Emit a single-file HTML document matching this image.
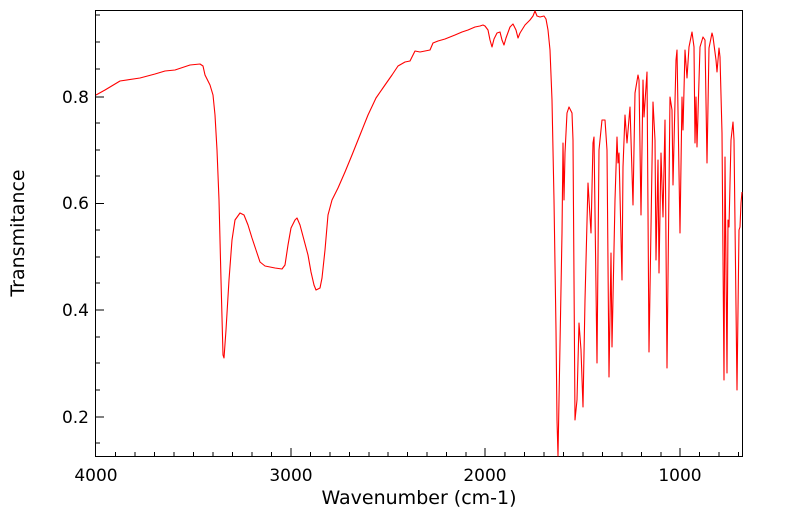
<!DOCTYPE html>
<html><head><meta charset="utf-8"><style>
html,body{margin:0;padding:0;background:#fff;}
svg{display:block;font-family:"DejaVu Sans","Liberation Sans",sans-serif;}
</style></head><body>
<svg width="799" height="516" viewBox="0 0 799 516" xmlns="http://www.w3.org/2000/svg">
<rect x="0" y="0" width="799" height="516" fill="#fff"/>
<g stroke="#000" stroke-width="1">
<rect x="95.5" y="10.5" width="647" height="446" fill="none"/>
<g>
<line x1="96" y1="97" x2="104" y2="97"/><line x1="96" y1="203.5" x2="104" y2="203.5"/><line x1="96" y1="310" x2="104" y2="310"/><line x1="96" y1="417" x2="104" y2="417"/>
<line x1="96" y1="15" x2="100" y2="15"/><line x1="96" y1="42" x2="100" y2="42"/><line x1="96" y1="69" x2="100" y2="69"/>
<line x1="96" y1="123" x2="100" y2="123"/><line x1="96" y1="150" x2="100" y2="150"/><line x1="96" y1="176" x2="100" y2="176"/>
<line x1="96" y1="230" x2="100" y2="230"/><line x1="96" y1="257" x2="100" y2="257"/><line x1="96" y1="283" x2="100" y2="283"/>
<line x1="96" y1="337" x2="100" y2="337"/><line x1="96" y1="363" x2="100" y2="363"/><line x1="96" y1="390" x2="100" y2="390"/>
<line x1="96" y1="443" x2="100" y2="443"/>
</g>
<g>
<line x1="291" y1="456" x2="291" y2="448"/><line x1="485" y1="456" x2="485" y2="448"/><line x1="680" y1="456" x2="680" y2="448"/>
<line x1="115.5" y1="456" x2="115.5" y2="452"/><line x1="135" y1="456" x2="135" y2="452"/><line x1="154.5" y1="456" x2="154.5" y2="452"/><line x1="174" y1="456" x2="174" y2="452"/><line x1="193.5" y1="456" x2="193.5" y2="452"/><line x1="213" y1="456" x2="213" y2="452"/><line x1="232.5" y1="456" x2="232.5" y2="452"/><line x1="252" y1="456" x2="252" y2="452"/><line x1="271.5" y1="456" x2="271.5" y2="452"/>
<line x1="310.5" y1="456" x2="310.5" y2="452"/><line x1="330" y1="456" x2="330" y2="452"/><line x1="349.5" y1="456" x2="349.5" y2="452"/><line x1="369" y1="456" x2="369" y2="452"/><line x1="388" y1="456" x2="388" y2="452"/><line x1="407.5" y1="456" x2="407.5" y2="452"/><line x1="427" y1="456" x2="427" y2="452"/><line x1="446.5" y1="456" x2="446.5" y2="452"/><line x1="466" y1="456" x2="466" y2="452"/>
<line x1="505" y1="456" x2="505" y2="452"/><line x1="524.5" y1="456" x2="524.5" y2="452"/><line x1="544" y1="456" x2="544" y2="452"/><line x1="563.5" y1="456" x2="563.5" y2="452"/><line x1="583" y1="456" x2="583" y2="452"/><line x1="602.5" y1="456" x2="602.5" y2="452"/><line x1="622" y1="456" x2="622" y2="452"/><line x1="641.5" y1="456" x2="641.5" y2="452"/><line x1="661" y1="456" x2="661" y2="452"/>
<line x1="699.5" y1="456" x2="699.5" y2="452"/><line x1="719" y1="456" x2="719" y2="452"/><line x1="738.5" y1="456" x2="738.5" y2="452"/>
</g>
</g>
<g font-size="17" fill="#000">
<text x="89" y="103" text-anchor="end">0.8</text>
<text x="89" y="209" text-anchor="end">0.6</text>
<text x="89" y="316" text-anchor="end">0.4</text>
<text x="89" y="423" text-anchor="end">0.2</text>
<text x="96" y="481" text-anchor="middle">4000</text>
<text x="291" y="481" text-anchor="middle">3000</text>
<text x="485" y="481" text-anchor="middle">2000</text>
<text x="680" y="481" text-anchor="middle">1000</text>
</g>
<g font-size="19" fill="#000">
<text x="419" y="504" text-anchor="middle">Wavenumber (cm-1)</text>
<text transform="translate(24,233) rotate(-90)" text-anchor="middle">Transmitance</text>
</g>
<polyline fill="none" stroke="#ff0000" stroke-width="1.1" stroke-linejoin="round" points="
96,95 105,90 120,81 140,78 155,74 165,71 175,70 190,65 200,64 203,66 205,75 210,85 213,95 215,115 217,150 219,200 221,280 223,355 224,358 226,330 229,280 232,240 235,220 240,213 244,215 248,225 252,238 256,250 260,262 265,266 275,268 282,269 285,265 288,245 291,228 295,220 297,218 300,225 304,240 308,255 311,272 314,285 316,290 320,288 322,278 325,250 328,215 332,200 338,188 345,172 352,155 360,135 368,115 376,98 385,85 392,75 398,66 405,62 410,61 413,55 415,51 420,52 425,51 430,50 433,43 438,41 445,39 455,35 462,32 468,30 475,27 480,26 483,25 485,26 488,30 490,40 492,47 494,39 497,33 500,32 502,40 504,45 506,38 510,27 513,24 516,30 518,38 520,33 525,25 530,20 533,16 535,11 537,16 540,17 544,16 546,19 548,30 550,50 552,100 554,200 556,330 557,420 558,456
562,233 563,143 564,200 565,153 567,113 569,107 572,113 573,140 575,420 577,400 579,323 581,350 583,407 585,300 588,183 591,233 593,143 594,137 597,363 599,150 602,120 605,120 607,150 609,377 611,253 612,347 615,200 617,137 618,163 619,153 622,280 623,167 625,115 627,143 630,107 633,205 635,93 638,75 639,80 641,215 643,80 644,117 647,72 649,352 653,102 655,140 656,260 658,160 659,273 661,153 663,217 665,120 667,368 670,97 672,110 673,185 676,60 677,50 680,233 682,97 683,130 685,50 687,78 689,47 692,32 694,47 695,143 696,97 697,147 700,47 703,37 705,40 707,163 709,48 712,33 713,37 716,60 717,72 719,48 720,57 722,133 724,380 725,157 727,373 728,220 729,227 731,140 733,122 734,140 737,390 739,230 740,227 741,203 742,192"/>
</svg>
</body></html>
